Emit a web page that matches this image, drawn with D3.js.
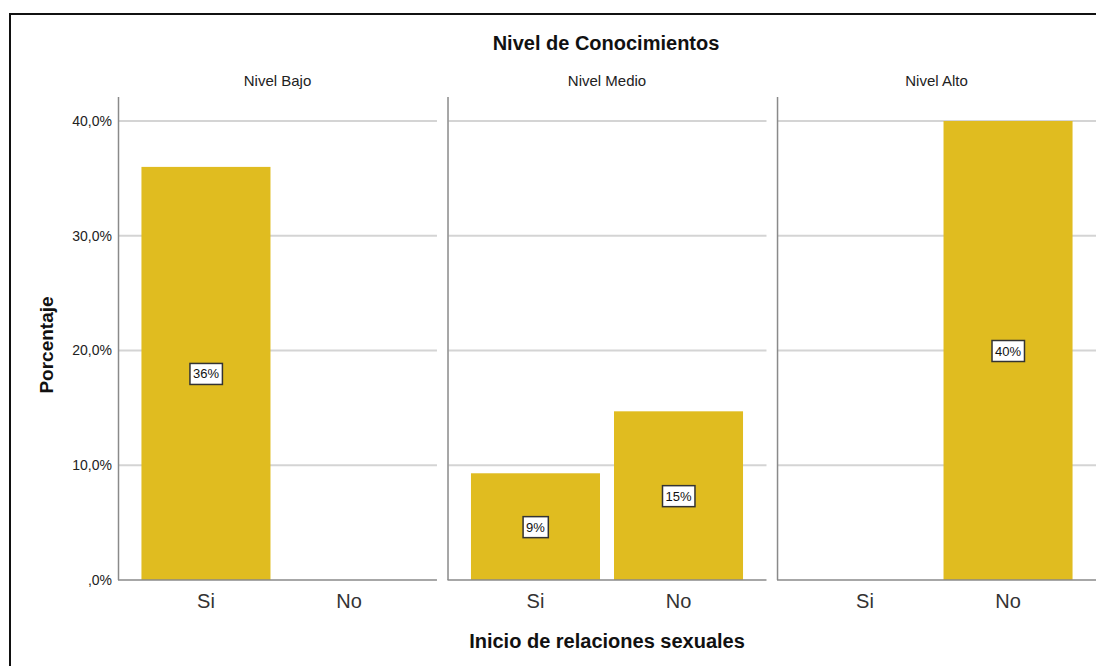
<!DOCTYPE html>
<html><head><meta charset="utf-8">
<script src="https://cdn.jsdelivr.net/npm/d3@7"></script>
<style>body{margin:0;background:#fff;} svg{display:block;font-family:"Liberation Sans",Arial,sans-serif;}</style>
</head><body>
<svg id="c" width="1096" height="666"></svg>
<script>
const panels = ["Nivel Bajo", "Nivel Medio", "Nivel Alto"];
const categories = ["Si", "No"];
const values = [
  [36.0, 0],
  [9.3, 14.7],
  [0, 40.0]
];
const labels = [
  ["36%", null],
  ["9%", "15%"],
  [null, "40%"]
];
const yTicks = [0, 10, 20, 30, 40];
const tickLabels = [",0%", "10,0%", "20,0%", "30,0%", "40,0%"];

(function () {
const svg = d3.select("#c");
svg.append("rect").attr("x", 10).attr("y", 14).attr("width", 1100).attr("height", 700)
  .attr("fill", "none").attr("stroke", "#111").attr("stroke-width", 2);

const plotTop = 97, plotBottom = 580;
const y = d3.scaleLinear().domain([0, 40]).range([plotBottom, 121]);
const panelX = d3.scaleBand().domain(panels).range([118, 1096]).paddingInner(0.032).paddingOuter(0);

svg.append("text").attr("x", 606).attr("y", 50).attr("text-anchor", "middle")
  .attr("font-size", 20).attr("font-weight", "bold").attr("fill", "#111").text("Nivel de Conocimientos");

const yAxis = svg.append("g").attr("transform", "translate(118,0)")
  .call(d3.axisLeft(y).tickValues(yTicks).tickSize(0).tickPadding(6).tickFormat((d, i) => tickLabels[i]));
yAxis.select(".domain").remove();
yAxis.selectAll("text").attr("font-size", 14).attr("fill", "#222").attr("font-family", "Liberation Sans, Arial, sans-serif");

panels.forEach((p, pi) => {
  const x0 = panelX(p), w = panelX.bandwidth();
  const g = svg.append("g").attr("transform", `translate(${x0},0)`);
  const x = d3.scaleBand().domain(categories).range([0, w]).paddingInner(0.098).paddingOuter(0.164);
  g.selectAll("line.grid").data(yTicks.filter(d => d > 0)).enter().append("line")
    .attr("x1", 1).attr("x2", w).attr("y1", d => y(d)).attr("y2", d => y(d))
    .attr("stroke", "#d4d4d4").attr("stroke-width", 2);
  g.selectAll("rect.bar").data(categories.map((c, i) => ({c, v: values[pi][i]}))).enter()
    .append("rect").attr("x", d => x(d.c)).attr("width", x.bandwidth())
    .attr("y", d => y(d.v)).attr("height", d => y(0) - y(d.v)).attr("fill", "#e0bc20");
  g.append("line").attr("x1", 0.5).attr("x2", 0.5).attr("y1", plotTop).attr("y2", plotBottom)
    .attr("stroke", "#8a8a8a").attr("stroke-width", 1.5);
  g.append("line").attr("x1", 0).attr("x2", w).attr("y1", plotBottom).attr("y2", plotBottom)
    .attr("stroke", "#8a8a8a").attr("stroke-width", 1.5);
  const xa = g.append("g").attr("transform", `translate(0,${plotBottom})`)
    .call(d3.axisBottom(x).tickSize(0).tickPadding(14));
  xa.select(".domain").remove();
  xa.selectAll("text").attr("font-size", 20).attr("fill", "#333").attr("font-family", "Liberation Sans, Arial, sans-serif");
  g.append("text").attr("x", w / 2).attr("y", 86).attr("text-anchor", "middle")
    .attr("font-size", 15).attr("fill", "#222").text(p);
  categories.forEach((c, i) => {
    const l = labels[pi][i];
    if (!l) return;
    const cx = x(c) + x.bandwidth() / 2, cy = y(values[pi][i] / 2);
    const box = g.append("rect");
    const t = g.append("text").attr("x", cx).attr("y", cy + 5).attr("text-anchor", "middle")
      .attr("font-size", 13).attr("fill", "#111").text(l);
    const bb = t.node().getBBox();
    box.attr("x", bb.x - 3).attr("y", cy - 10)
      .attr("width", bb.width + 6).attr("height", 21)
      .attr("fill", "#fff").attr("stroke", "#333").attr("stroke-width", 1.5);
  });
});

svg.append("text").attr("transform", "translate(53,345) rotate(-90)").attr("text-anchor", "middle")
  .attr("font-size", 19).attr("font-weight", "bold").attr("fill", "#111").text("Porcentaje");
svg.append("text").attr("x", 607).attr("y", 648).attr("text-anchor", "middle")
  .attr("font-size", 20).attr("font-weight", "bold").attr("fill", "#111").text("Inicio de relaciones sexuales");
})();
</script>
</body></html>
